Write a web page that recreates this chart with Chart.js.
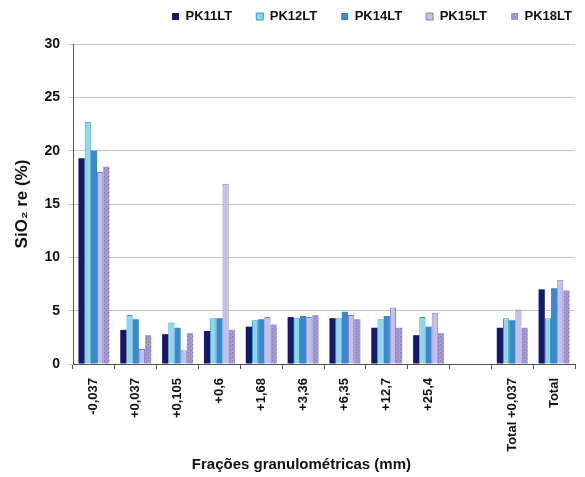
<!DOCTYPE html>
<html>
<head>
<meta charset="utf-8">
<script src="https://cdn.jsdelivr.net/npm/chart.js@4/dist/chart.umd.min.js"></script>
<style>
html,body{margin:0;padding:0;background:#fff;}
#wrap{width:585px;height:477px;}
</style>
</head>
<body>
<div id="wrap"><canvas id="c" width="585" height="477"></canvas></div>
<script>
const categories = ['-0,037','+0,037','+0,105','+0,6','+1,68','+3,36','+6,35','+12,7','+25,4','','Total +0,037','Total'];
const seriesNames = ['PK11LT','PK12LT','PK14LT','PK15LT','PK18LT'];
const PK11LT = [19.3, 3.2, 2.8, 3.1, 3.5, 4.4, 4.3, 3.4, 2.7, null, 3.4, 7.0];
const PK12LT = [22.7, 4.6, 3.9, 4.3, 4.1, 4.3, 4.3, 4.2, 4.4, null, 4.3, 4.3];
const PK14LT = [20.0, 4.2, 3.4, 4.3, 4.2, 4.5, 4.9, 4.5, 3.5, null, 4.1, 7.1];
const PK15LT = [18.0, 1.4, 1.3, 16.9, 4.4, 4.4, 4.6, 5.3, 4.8, null, 5.1, 7.9];
const PK18LT = [18.5, 2.7, 2.9, 3.2, 3.7, 4.6, 4.2, 3.4, 2.9, null, 3.4, 6.9];
const yTicks = [0,5,10,15,20,25,30];
const xTitle = 'Frações granulométricas (mm)';

function dotPattern(base, dot){
  const p = document.createElement('canvas');
  p.width = 4; p.height = 4;
  const g = p.getContext('2d');
  g.fillStyle = base; g.fillRect(0,0,4,4);
  g.fillStyle = dot;
  g.fillRect(0,0,1,1); g.fillRect(2,2,1,1);
  return g.createPattern(p,'repeat');
}

const fills = ['#16186a','#8fd6ea','#3a88d0','#c6bfec', dotPattern('#a29ad0','#7e75b6')];
const borders = ['#16186a','#2a9fb6','#3a88d0','#8a7fbe','#8a82bc'];
const borderW = [0,1,0,1,0];
const values = [PK11LT, PK12LT, PK14LT, PK15LT, PK18LT];

const fontFam = '"Liberation Sans", Arial, sans-serif';

const legendFix = {
  id:'legendFix',
  beforeInit(chart){
    const lg = chart.legend;
    if(!lg) return;
    const orig = lg.fit;
    lg.fit = function(){ orig.call(this); this.height = 44; };
    const od = lg.draw;
    lg.draw = function(){
      const ctx = this.ctx;
      ctx.save(); ctx.translate(21,-14); od.call(this); ctx.restore();
    };
  },
  afterDraw(chart){
    const ctx = chart.ctx, a = chart.chartArea;
    ctx.save();
    ctx.font = 'bold 15px ' + fontFam;
    ctx.fillStyle = '#111';
    ctx.textAlign = 'center';
    ctx.textBaseline = 'middle';
    ctx.fillText(xTitle, a.left + (a.right - a.left) * 0.455, chart.height - 12);
    ctx.restore();
  }
};

new Chart(document.getElementById('c'), {
  type:'bar',
  data:{
    labels: categories,
    datasets: seriesNames.map((n,i)=>({
      label:n,
      data: values[i],
      backgroundColor: fills[i],
      borderColor: borders[i],
      borderWidth: borderW[i],
      borderSkipped: 'bottom',
      categoryPercentage: 0.74,
      barPercentage: 1.0
    }))
  },
  options:{
    responsive:false,
    animation:false,
    devicePixelRatio:1,
    layout:{padding:{left:0,right:10,top:0,bottom:0}},
    plugins:{
      tooltip:{enabled:false},
      legend:{
        position:'top',
        align:'end',
        labels:{
          boxWidth:7, boxHeight:7,
          padding:24,
          color:'#111',
          font:{family:fontFam, size:13, weight:'bold'}
        }
      }
    },
    scales:{
      x:{
        afterFit(s){ s.height = 113; },
        grid:{display:true, drawOnChartArea:false, drawTicks:true, tickLength:5, color:'#555', offset:true},
        border:{display:true, color:'#555', width:1},
        ticks:{
          autoSkip:false, maxRotation:90, minRotation:90,
          color:'#111', padding:9,
          font:{family:fontFam, size:13, weight:'bold'}
        },
        title:{display:false}
      },
      y:{
        min:0, max:30,
        afterFit(s){ s.width = 73; },
        afterBuildTicks(s){ s.ticks = yTicks.map(v=>({value:v})); },
        grid:{color:'#c4c4c4', tickLength:5, drawTicks:true},
        border:{display:true, color:'#555', width:1},
        ticks:{
          color:'#111', padding:8,
          font:{family:fontFam, size:14, weight:'bold'}
        },
        title:{
          display:true, text:'SiO₂ re (%)',
          color:'#111', padding:{top:12,bottom:0},
          font:{family:fontFam, size:17, weight:'bold'}
        }
      }
    }
  },
  plugins:[legendFix]
});
</script>
</body>
</html>
